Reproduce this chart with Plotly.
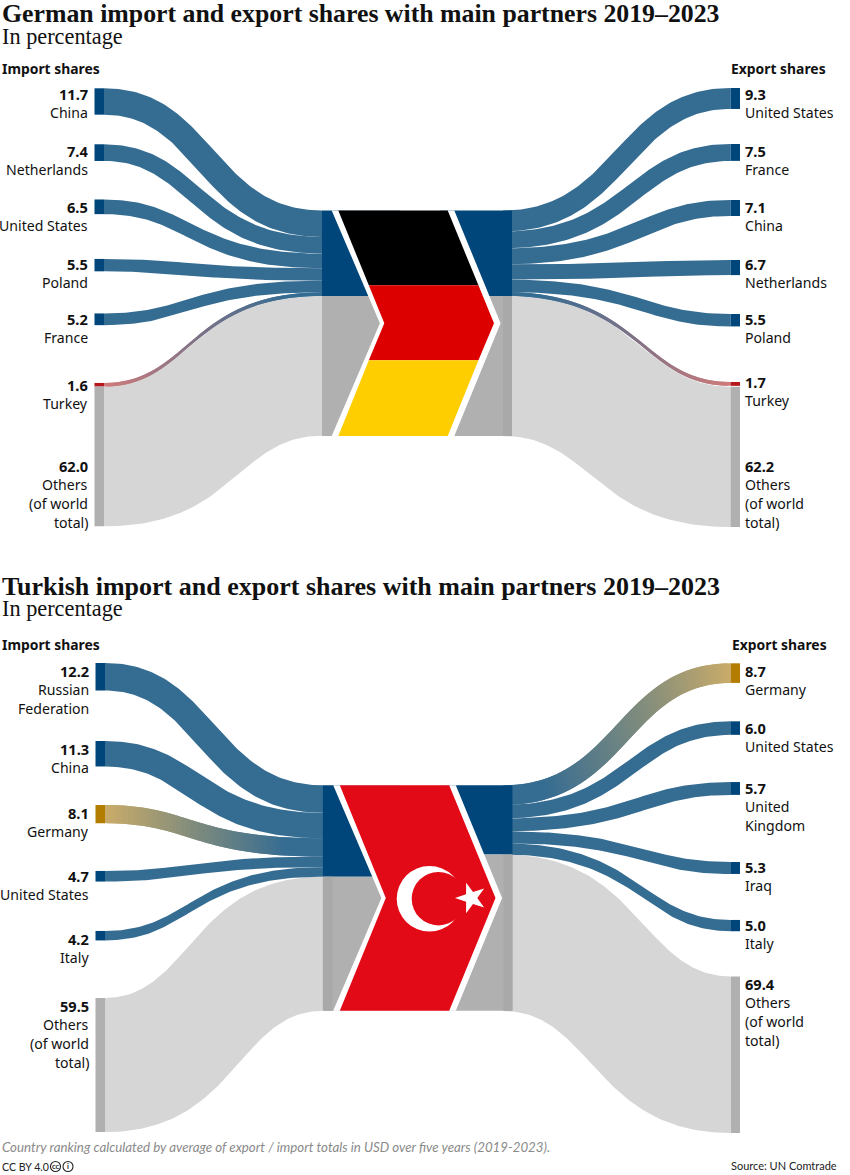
import math
import numpy as np
import plotly.graph_objects as go

# values, percentage shares
de_import_names = ["China", "Netherlands", "United States", "Poland", "France", "Turkey", "Others<br>(of world<br>total)"]
de_import_values = [11.7, 7.4, 6.5, 5.5, 5.2, 1.6, 62.0]
de_export_names = ["United States", "France", "China", "Netherlands", "Poland", "Turkey", "Others<br>(of world<br>total)"]
de_export_values = [9.3, 7.5, 7.1, 6.7, 5.5, 1.7, 62.2]
tr_import_names = ["Russian<br>Federation", "China", "Germany", "United States", "Italy", "Others<br>(of world<br>total)"]
tr_import_values = [12.2, 11.3, 8.1, 4.7, 4.2, 59.5]
tr_export_names = ["Germany", "United States", "United<br>Kingdom", "Iraq", "Italy", "Others<br>(of world<br>total)"]
tr_export_values = [8.7, 6.0, 5.7, 5.3, 5.0, 69.4]

# layout: white space between the outer nodes, label heights
de_import_gaps = [29.6, 38.5, 44.8, 42.1, 57.8, 0]
de_export_gaps = [35, 39.1, 44, 38.9, 55.6, 0.9]
tr_import_gaps = [50.5, 38.5, 47.7, 49.4, 57.5]
tr_export_gaps = [38.4, 47.2, 67.1, 46, 45.2]
de_import_label_y = [94, 151, 207, 264, 319, 385, 466]
de_export_label_y = [94, 151, 207, 264, 319, 382, 466]
tr_import_label_y = [671, 749, 813, 876, 939, 1006]
tr_export_label_y = [671, 728, 788, 867, 925, 984]

PX = 2.255  # pixels per percentage point
LEAN_RATE = 0.0023  # curve moves towards the outer node the lower it sits in the stack
LEAN_MAX = 0.107
BLUE_NODE = "#00467a"
BLUE_LINK = "#356c92"
GREY_NODE = "#b0b0b0"
GREY_LINK = "#d6d6d6"
SERIF = "Liberation Serif"
SANS = "Noto Sans"

fig = go.Figure()
shapes = []
notes = []


def hex_rgb(c):
    return [int(c[i:i + 2], 16) for i in (1, 3, 5)]


def mix(a, b, f):
    a, b = hex_rgb(a), hex_rgb(b)
    return "rgb(%d,%d,%d)" % tuple(round(p + (q - p) * f) for p, q in zip(a, b))


def text(x, y, s, size=14.1, anchor="left", font=SANS, color="#111111", bold=False, italic=False):
    notes.append(dict(
        x=x, y=y, text="<b>%s</b>" % s if bold else ("<i>%s</i>" % s if italic else s),
        xref="x", yref="y", showarrow=False, xanchor=anchor, yanchor="middle",
        align=anchor, borderpad=0, font=dict(family=font, size=size, color=color),
    ))


def poly(pts, color):
    path = "M" + "L".join("%.2f,%.2f" % p for p in pts) + "Z"
    shapes.append(dict(type="path", path=path, fillcolor=color, line_width=0, xref="x", yref="y", layer="above"))


def edge(x0, y0, x1, y1, shift):
    # cubic from the outer node to the middle, shift moves the bend towards the outer node
    t = np.linspace(0, 1, 90)
    side_sign = 1 if x0 > x1 else -1
    c = (x0 + x1) / 2 + side_sign * shift * abs(x1 - x0)
    px = (1 - t) ** 3 * x0 + 3 * (1 - t) ** 2 * t * c + 3 * (1 - t) * t ** 2 * c + t ** 3 * x1
    py = (1 - t) ** 3 * y0 + 3 * (1 - t) ** 2 * t * y0 + 3 * (1 - t) * t ** 2 * y1 + t ** 3 * y1
    return px, py


def ribbon(x0, y0, x1, y1, width, color, fade, s_top, s_bot):
    span = abs(x1 - x0)
    xa, ya = edge(x0, y0, x1, y1, s_top)
    xb, yb = edge(x0, y0 + width, x1, y1 + width, s_bot)

    def add(i, j, c):
        xs = list(xa[i:j]) + list(xb[i:j][::-1])
        ys = list(ya[i:j]) + list(yb[i:j][::-1])
        fig.add_trace(go.Scatter(x=xs, y=ys, mode="lines", fill="toself", fillcolor=c,
                                 line=dict(width=0), hoverinfo="skip", showlegend=False))

    if fade is None:
        add(0, len(xa), color)
    else:
        # colour fades from the outer node towards the middle, painted as thin slices
        for i in range(0, len(xa) - 1):
            f = min(1, abs(xa[i] - x0) / span / 0.82)
            add(i, min(i + 3, len(xa)), mix(fade, color, f))


def side(names, values, gaps, label_y, top, first, node_x, mid_x, name_dir, highlight):
    anchor = "right" if name_dir < 0 else "left"
    tx = node_x[0] - 5.5 if name_dir < 0 else node_x[1] + 4
    tops = [first]
    for v, g in zip(values, gaps):
        tops.append(tops[-1] + v * PX + g)
    stack = top
    order = []
    for name, v, t in zip(names, values, tops):
        order.append((name, v, t, stack))
        stack += v * PX
    inner = node_x[1] if name_dir < 0 else node_x[0]
    # grey link first so the coloured ones sit on top of it
    for name, v, t, s in order[::-1]:
        w = v * PX
        grey = name.startswith("Others")
        fade = highlight.get(name, (None, None))[1]
        s_top = min(LEAN_RATE * (s - top), LEAN_MAX)
        s_bot = -LEAN_MAX if grey else min(LEAN_RATE * (s + w - top), LEAN_MAX)
        ribbon(inner, t, mid_x, s, w, GREY_LINK if grey else BLUE_LINK, fade, s_top, s_bot)
    for name, v, t, s in order:
        grey = name.startswith("Others")
        c = GREY_NODE if grey else highlight.get(name, (BLUE_NODE, None))[0]
        poly([(node_x[0], t), (node_x[1], t), (node_x[1], t + v * PX), (node_x[0], t + v * PX)], c)
    for name, v, y in zip(names, values, label_y):
        text(tx, y, "%.1f" % v, size=14.6, anchor=anchor, bold=True)
        for i, line in enumerate(name.split("<br>")):
            text(tx, y + 18.7 * (i + 1), line, anchor=anchor)


def flag_frame(top, dx, split_l, split_r, left_bar):
    bot = top + 225.4
    mid = (top + bot) / 2
    left, right = 338.3 + dx, 447.7 + dx
    notch, tip = 384.3 + dx, 494 + dx
    end = 512 + dx * 0.3
    poly([(322 + dx * 0.6, top), (400, top), (400, split_l), (322 + dx * 0.6, split_l)], BLUE_NODE)
    poly([(322 + dx * 0.6, split_l), (400, split_l), (400, bot), (322 + dx * 0.6, bot)], GREY_NODE)
    poly([(440, top), (end, top), (end, split_r), (440, split_r)], BLUE_NODE)
    poly([(440, split_r), (end, split_r), (end, bot), (440, bot)], GREY_NODE)
    poly([(end - 9, split_r), (end, split_r), (end, bot), (end - 9, bot)], "#a9a9a9")
    if left_bar:
        poly([(322 + dx * 0.6, split_l), (332.5, split_l), (332.5, bot), (322 + dx * 0.6, bot)], "#a9a9a9")
    poly([(left - 6.6, top), (right + 6.6, top), (tip + 6.6, mid), (right + 6.6, bot), (left - 6.6, bot), (notch - 4.4, mid)], "#ffffff")
    return bot, mid, left, right, notch, tip


def german_flag(top):
    bot, mid, left, right, notch, tip = flag_frame(top, 0, top + 37.9 * PX, top + 37.9 * PX, False)
    y1, y2 = top + 74.8, top + 149.8
    f = (y1 - top) / (mid - top)
    xl, xr = left + (notch - left) * f, right + (tip - right) * f
    poly([(left, top), (right, top), (xr, y1), (xl, y1)], "#000000")
    poly([(xl, y1), (xr, y1), (tip, mid), (xr, y2), (xl, y2), (notch, mid)], "#dd0000")
    poly([(xl, y2), (xr, y2), (right, bot), (left, bot)], "#ffce00")


def turkish_flag(top):
    bot, mid, left, right, notch, tip = flag_frame(top, 1.5, top + 40.5 * PX, top + 30.7 * PX, True)
    poly([(left, top), (right, top), (tip, mid), (right, bot), (left, bot), (notch, mid)], "#e30a17")
    for cx, r, c in [(429.5, 32.8, "#ffffff"), (438.4, 26.7, "#e30a17")]:
        shapes.append(dict(type="circle", x0=cx - r, x1=cx + r, y0=mid + 0.7 - r, y1=mid + 0.7 + r,
                           fillcolor=c, line_width=0, xref="x", yref="y", layer="above"))
    pts = []
    for k in range(10):
        a = math.pi + k * math.pi / 5
        r = 16.1 if k % 2 == 0 else 6.2
        pts.append((471.1 + r * math.cos(a), mid + r * math.sin(a)))
    poly(pts, "#ffffff")


# Germany
text(1, 13, "German import and export shares with main partners 2019–2023", size=25.8, font=SERIF, bold=True)
text(1, 36, "In percentage", size=22.3, font=SERIF)
text(1, 68, "Import shares", size=13.9, bold=True)
text(730, 68, "Export shares", size=13.9, bold=True)
red = {"Turkey": ("#b5171c", "#cf7b7b")}
side(de_import_names, de_import_values, de_import_gaps, de_import_label_y, 210.5, 88.3, (94.5, 104), 322, -1, red)
side(de_export_names, de_export_values, de_export_gaps, de_export_label_y, 210.5, 88, (730.5, 740), 503, 1, red)
german_flag(210.5)

# Turkey
text(1, 586, "Turkish import and export shares with main partners 2019–2023", size=26, font=SERIF, bold=True)
text(1, 608, "In percentage", size=22.3, font=SERIF)
text(1, 644, "Import shares", size=13.9, bold=True)
text(731, 644, "Export shares", size=13.9, bold=True)
gold = {"Germany": ("#b37d00", "#c9ab69")}
side(tr_import_names, tr_import_values, tr_import_gaps, tr_import_label_y, 785.3, 663, (95.5, 105), 323, -1, gold)
side(tr_export_names, tr_export_values, tr_export_gaps, tr_export_label_y, 785.3, 663.3, (731, 740), 503.3, 1, gold)
turkish_flag(785.3)

# footer
text(1, 1147, "Country ranking calculated by average of export / import totals in USD over five years (2019-2023).",
     size=13.3, font="Lato", color="#8a8a8a", italic=True)
text(1, 1166.5, "CC BY 4.0", size=10.6, font="Lato", color="#222222")
text(730, 1165.5, "Source: UN Comtrade", size=11, font="Lato", color="#222222")
for cx, s in [(55.5, "cc"), (68, "i")]:
    shapes.append(dict(type="circle", x0=cx - 5, x1=cx + 5, y0=1161.5, y1=1171.5, fillcolor="#ffffff",
                       line=dict(color="#222222", width=1.1), xref="x", yref="y", layer="above"))
    text(cx, 1166, s, size=7.5, anchor="center", font="Lato", color="#222222", bold=True)

fig.update_layout(
    width=850, height=1175,
    margin=dict(l=0, r=0, t=0, b=0),
    paper_bgcolor="white", plot_bgcolor="white",
    xaxis=dict(range=[0, 850], visible=False, fixedrange=True),
    yaxis=dict(range=[1175, 0], visible=False, fixedrange=True),
    showlegend=False,
    shapes=shapes,
    annotations=notes,
)

fig.write_html("out.html", config={"displayModeBar": False},
               post_script="document.body.style.margin='0';document.documentElement.style.overflow='hidden';")
